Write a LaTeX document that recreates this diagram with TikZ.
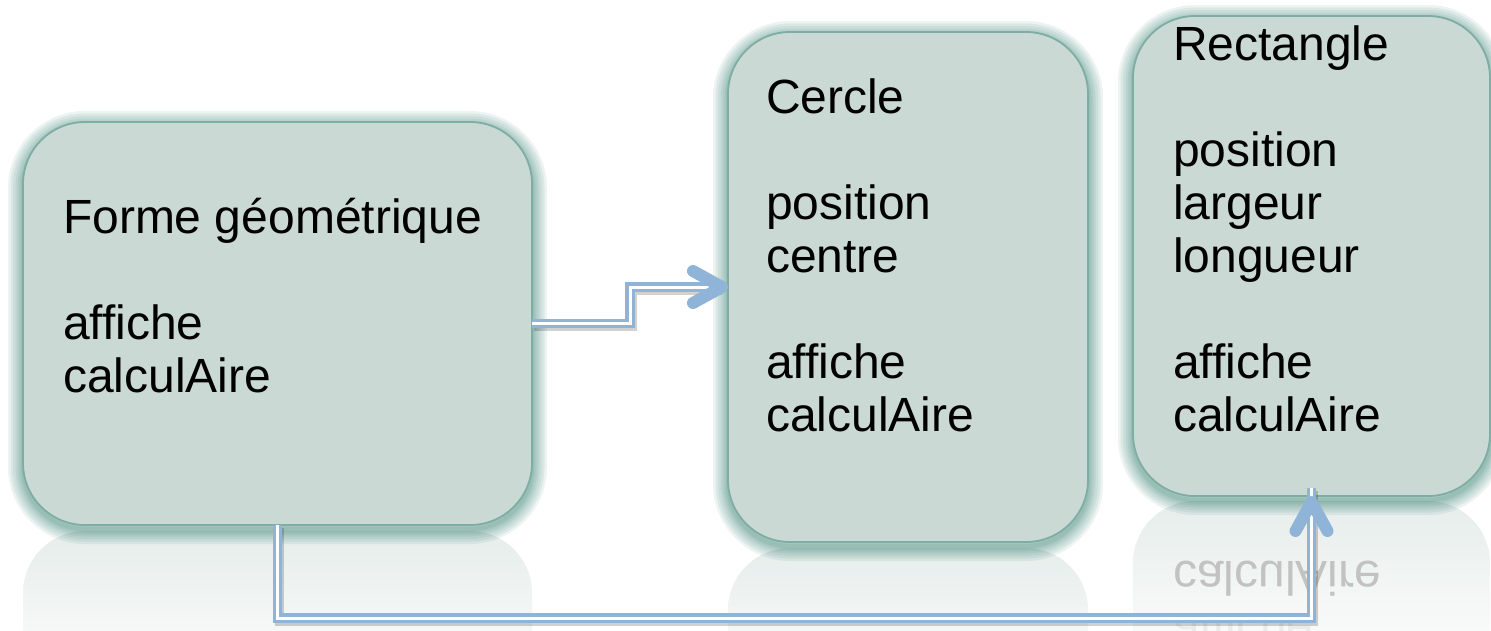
\documentclass[tikz,border=0pt]{standalone}
\usepackage{fontspec}
\setmainfont{Liberation Sans}
\usetikzlibrary{calc}
\definecolor{boxfill}{HTML}{CAD9D4}
\definecolor{boxline}{HTML}{7EADA3}
\definecolor{glowc}{HTML}{2F7E6C}
\definecolor{connc}{HTML}{8FB4D8}
\definecolor{reflc}{HTML}{E6EDEB}
\begin{document}
\begin{tikzpicture}[x=1pt,y=-1pt,
  gl/.style={preaction={draw=glowc, line width=#1, draw opacity=0.09, transform canvas={yshift=-4pt}}},
  box/.style={draw=boxline, line width=1.8pt, fill=boxfill, rounded corners=62pt,
    inner sep=0pt, outer sep=0pt, gl=30pt, gl=25pt, gl=20pt, gl=15pt, gl=11pt, gl=7pt, gl=4pt},
  lbl/.style={anchor=base west, inner sep=0pt, outer sep=0pt, text=black,
    font=\fontsize{48}{53}\selectfont},
  rlbl/.style={lbl, yscale=-1, transform shape},
  refl/.style={top color=reflc, bottom color=white},
  connector/.style={draw=connc, line width=3.3pt, double=white, double distance=3pt},
  connshadow/.style={draw=black, draw opacity=0.18, line width=9.6pt,
    transform canvas={xshift=2pt, yshift=-3pt}},
  chev/.style={draw=connc, line width=12pt, line cap=round, line join=round,
    preaction={draw=black, draw opacity=0.18, transform canvas={xshift=2pt, yshift=-3pt}}}
]
\useasboundingbox (0,0) rectangle (1491,630);
\path[clip] (0,0) rectangle (1491,630);
\fill[white] (0,0) rectangle (1491,630);

% reflections
\shade[refl] (23,700) {[rounded corners=62pt] -- (23,531) -- (532,531)} -- (532,700) -- cycle;
\shade[refl] (728,700) {[rounded corners=62pt] -- (728,548) -- (1088,548)} -- (1088,700) -- cycle;
\shade[refl] (1133,680) {[rounded corners=62pt] -- (1133,501) -- (1490,501)} -- (1490,680) -- cycle;
\node[rlbl, text=black!24] (rc1) at (1173,561) {calculAire};
\node[rlbl, text=black!8] (rc2) at (1173,614) {affiche};

% boxes
\node[box, minimum width=509pt, minimum height=403pt] (A) at (277.5,323.5) {};
\node[box, minimum width=360pt, minimum height=510pt] (B) at (908,287) {};
\node[box, minimum width=357pt, minimum height=480pt] (C) at (1311.5,256) {};

% texts
\node[lbl] (a1) at (63,233) {Forme géométrique};
\node[lbl] (a2) at (63,339) {affiche};
\node[lbl] (a3) at (63,392) {calculAire};

\node[lbl] (b1) at (766,113) {Cercle};
\node[lbl] (b2) at (766,219) {position};
\node[lbl] (b3) at (766,272) {centre};
\node[lbl] (b4) at (766,378) {affiche};
\node[lbl] (b5) at (766,431) {calculAire};

\node[lbl] (c1) at (1173,60) {Rectangle};
\node[lbl] (c2) at (1173,166) {position};
\node[lbl] (c3) at (1173,219) {largeur};
\node[lbl] (c4) at (1173,272) {longueur};
\node[lbl] (c5) at (1173,378) {affiche};
\node[lbl] (c6) at (1173,431) {calculAire};

% connectors
\coordinate (m1) at ($(A.east)!0.5!(B.west)$);
\coordinate (bot) at (700,618);
\draw[connshadow] (A.east) -| (m1) |- ([xshift=-8pt]B.west);
\draw[connshadow] (A.south) |- (bot) -| ([yshift=8pt]C.south);
\draw[connector] (A.east) -| (m1) |- ([xshift=-8pt]B.west);
\draw[connector] (A.south) |- (bot) -| ([yshift=8pt]C.south);
\draw[chev] ([shift={(-35,-16)}]B.west) -- ([shift={(-6,0)}]B.west) -- ([shift={(-35,16)}]B.west);
\draw[chev] ([shift={(-16,35)}]C.south) -- ([shift={(0,6)}]C.south) -- ([shift={(16,35)}]C.south);
\end{tikzpicture}
\end{document}
